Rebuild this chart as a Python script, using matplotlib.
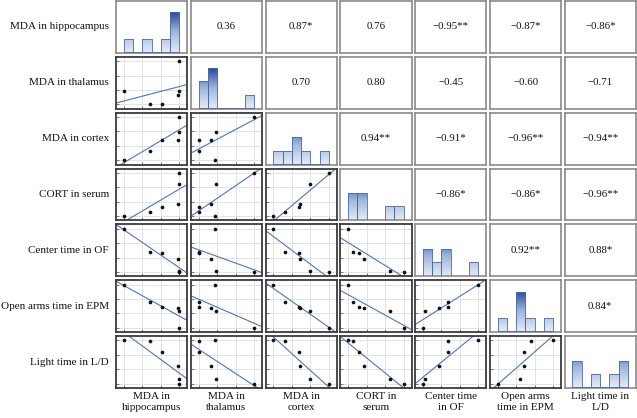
import numpy as np
import matplotlib
matplotlib.use('Agg')
import matplotlib.pyplot as plt
from matplotlib.colors import LinearSegmentedColormap, Normalize

plt.rcParams['font.family'] = ['Liberation Serif', 'DejaVu Serif']

row_labels = ['MDA in hippocampus', 'MDA in thalamus', 'MDA in cortex', 'CORT in serum',
              'Center time in OF', 'Open arms time in EPM', 'Light time in L/D']
col_labels = ['MDA in\nhippocampus', 'MDA in\nthalamus', 'MDA in\ncortex', 'CORT in\nserum',
              'Center time\nin OF', 'Open arms\ntime in EPM', 'Light time in\nL/D']

# six samples, each measure rescaled to 0-1
hippocampus = [0.00, 0.476, 0.69, 1.00, 0.99, 0.98]
thalamus = [0.30, 0.00, 0.01, 1.00, 0.32, 0.22]
cortex = [0.00, 0.21, 0.46, 1.00, 0.66, 0.48]
cort_serum = [0.00, 0.09, 0.20, 1.00, 0.75, 0.29]
center_of = [1.00, 0.46, 0.45, 0.00, 0.03, 0.29]
open_epm = [1.00, 0.60, 0.48, 0.00, 0.40, 0.47]
light_ld = [1.00, 0.98, 0.73, 0.00, 0.10, 0.42]

variables = [hippocampus, thalamus, cortex, cort_serum, center_of, open_epm, light_ld]

# correlation coefficients shown in the upper triangle
r_row1 = ['0.36', '0.87*', '0.76', '\u22120.95**', '\u22120.87*', '\u22120.86*']
r_row2 = ['0.70', '0.80', '\u22120.45', '\u22120.60', '\u22120.71']
r_row3 = ['0.94**', '\u22120.91*', '\u22120.96**', '\u22120.94**']
r_row4 = ['\u22120.86*', '\u22120.86*', '\u22120.96**']
r_row5 = ['0.92**', '0.88*']
r_row6 = ['0.84*']
r_rows = [r_row1, r_row2, r_row3, r_row4, r_row5, r_row6]

W, H = 637, 418
fig = plt.figure(figsize=(W / 100, H / 100), dpi=100)
gs = fig.add_gridspec(7, 7, left=116 / W, right=636 / W, top=1 - 1 / H, bottom=1 - 388 / H,
                      wspace=0.049, hspace=0.077)

grad = LinearSegmentedColormap.from_list('bargrad', ['#e3eaf6', '#9fb6df', '#2a4c9a'])
norm = Normalize(0, 3)
ticks = [0, 1 / 3, 2 / 3, 1]


def lims(v):
    v = np.asarray(v)
    lo, hi = v.min(), v.max()
    rng = hi - lo
    return lo - 0.14 * rng, hi + 0.145 * rng


for i in range(7):
    for j in range(7):
        ax = fig.add_subplot(gs[i, j])
        xv = np.asarray(variables[j])
        yv = np.asarray(variables[i])
        ax.set_xticks([])
        ax.set_yticks([])
        if i > j:
            xl = lims(xv)
            yr = yv.max() - yv.min()
            yl = (yv.min() - 0.1 * yr, yv.max() + 0.1 * yr)
            ax.set_xticks(ticks)
            ax.set_yticks(ticks)
            ax.tick_params(direction='in', length=2, width=0.6, colors='#666666',
                           labelbottom=False, labelleft=False)
            ax.grid(True, color='#dedede', lw=0.6)
            ax.set_axisbelow(True)
            k, b = np.polyfit(xv, yv, 1)
            xx = np.array(xl)
            ax.plot(xx, k * xx + b, color='#4a78b5', lw=0.8)
            ax.scatter(xv, yv, s=7, color='#111111', zorder=3, linewidths=0)
            ax.set_xlim(xl)
            ax.set_ylim(yl)
            for sp in ax.spines.values():
                sp.set_color('#3a3a3a')
                sp.set_linewidth(1.3)
        elif i == j:
            counts, edges = np.histogram(xv, bins=6)
            bars = ax.bar(edges[:-1], counts, width=np.diff(edges), align='edge',
                          color='none', edgecolor='#4e6aa3', linewidth=0.6, zorder=3)
            for bar, c in zip(bars, counts):
                if c > 0:
                    x0 = bar.get_x()
                    img = ax.imshow(np.linspace(0, c, 60).reshape(-1, 1), cmap=grad, norm=norm,
                                    origin='lower', aspect='auto',
                                    extent=[x0, x0 + bar.get_width(), 0, c], zorder=2)
                    img.set_clip_path(bar)
            ax.set_xlim(lims(xv))
            ax.set_ylim(-0.05, 3.85)
            for sp in ax.spines.values():
                sp.set_color('#8a8a8a')
                sp.set_linewidth(1.2)
        else:
            ax.text(0.5, 0.5, r_rows[i][j - i - 1], ha='center', va='center',
                    transform=ax.transAxes, fontsize=7.8, color='#111111')
            for sp in ax.spines.values():
                sp.set_color('#8a8a8a')
                sp.set_linewidth(1.2)

        if j == 0:
            pos = ax.get_position()
            fig.text(109 / W, (pos.y0 + pos.y1) / 2, row_labels[i], ha='right', va='center',
                     fontsize=8, color='#111111')
        if i == 6:
            pos = ax.get_position()
            fig.text((pos.x0 + pos.x1) / 2, 1 - 392 / H, col_labels[j], ha='center', va='top',
                     fontsize=8, color='#111111', linespacing=1.3)

fig.savefig('out.png', dpi=100, facecolor='white')
